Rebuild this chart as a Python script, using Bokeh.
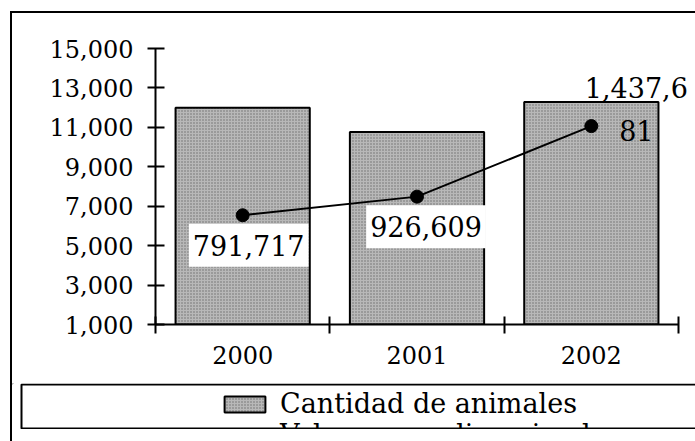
import numpy as np
from bokeh.plotting import figure
from bokeh.models import (Range1d, FixedTicker, NumeralTickFormatter, Label,
                          Legend, LegendItem, Column, Spacer)
from bokeh.embed import file_html
from bokeh.resources import INLINE

# ---- data ----
years = ["2000", "2001", "2002"]
cantidad = [11990, 10770, 12290]
valor = [791717, 926609, 1437681]
valor_labels = ["791,717", "926,609", "1,437,6\n81"]
y_ticks = [1000, 3000, 5000, 7000, 9000, 11000, 13000, 15000]

FONT = "DejaVu Serif"
BAR_STYLE = dict(fill_color="#b8b8b8", hatch_pattern="dot", hatch_color="#6e6e6e",
                 hatch_scale=3, hatch_weight=1, line_color="black", line_width=2)
LINE_STYLE = dict(line_color="black", line_width=2)
DOT_STYLE = dict(size=13, fill_color="black", line_color="black")

xc = np.arange(len(years)) + 0.5
bounds = list(np.arange(len(years) + 1).astype(float))

# layout in pixels (canvas of the chart figure)
W = 683
H_CHART = 370
FRAME_L, FRAME_AXIS_R = 143, 666   # y axis line / last category boundary
x_end = len(years) * (W - FRAME_L) / (FRAME_AXIS_R - FRAME_L)

p = figure(width=W, height=H_CHART, output_backend="svg", toolbar_location=None,
           x_range=Range1d(0, x_end), y_range=Range1d(1000, 15000),
           min_border_left=FRAME_L, min_border_right=0, min_border_top=35,
           min_border_bottom=59)
p.frame_align = False
p.extra_y_ranges = {"valor": Range1d(0, 2000000)}
p.outline_line_color = None
p.background_fill_color = "white"
p.border_fill_color = "white"
p.xgrid.grid_line_color = None
p.ygrid.grid_line_color = None

# y axis
ya = p.yaxis[0]
ya.ticker = FixedTicker(ticks=y_ticks)
ya.formatter = NumeralTickFormatter(format="0,0")
ya.major_label_text_font = FONT
ya.major_label_text_font_size = "24px"
ya.major_label_text_color = "black"
ya.axis_line_width = 2
ya.axis_line_color = "black"
ya.major_tick_line_width = 2
ya.major_tick_line_color = "black"
ya.major_tick_in = 9
ya.major_tick_out = 8
ya.minor_tick_line_color = None
ya.major_label_standoff = 14

# x axis
xa = p.xaxis[0]
xa.bounds = (0, len(years))
xa.ticker = FixedTicker(ticks=list(xc), minor_ticks=bounds)
xa.major_label_overrides = {float(x): y for x, y in zip(xc, years)}
xa.major_label_text_font = FONT
xa.major_label_text_font_size = "24px"
xa.major_label_text_color = "black"
xa.axis_line_width = 2
xa.axis_line_color = "black"
xa.major_tick_line_color = None
xa.major_tick_in = 0
xa.major_tick_out = 9
xa.minor_tick_line_width = 2
xa.minor_tick_line_color = "black"
xa.minor_tick_in = 8
xa.minor_tick_out = 9
xa.major_label_standoff = 12

p.vbar(x=xc, top=cantidad, bottom=1000, width=0.77, **BAR_STYLE)
p.line(x=xc, y=valor, y_range_name="valor", **LINE_STYLE)
p.scatter(x=xc, y=valor, y_range_name="valor", **DOT_STYLE)

offsets = [(6, -30, True), (9, -30, True), (45, 16, False)]
for x, v, t, (dx, dy, bg) in zip(xc, valor, valor_labels, offsets):
    lab = Label(x=x, y=v, y_range_name="valor", text=t, x_offset=dx, y_offset=dy,
                text_align="center", text_baseline="middle",
                text_font=FONT, text_font_size="27px", text_color="black")
    if bg:
        lab.background_fill_color = "white"
        lab.padding = (4, 11)
    else:
        lab.text_line_height = 1.37
    p.add_layout(lab)

# ---- legend strip (box clipped like the original) ----
H_LEG = 46
q = figure(width=W, height=H_LEG, output_backend="svg", toolbar_location=None,
           x_range=Range1d(0, W), y_range=Range1d(H_LEG, 0),
           min_border=0, x_axis_location=None, y_axis_location=None)
q.frame_align = False
q.outline_line_color = None
q.background_fill_color = "white"
q.border_fill_color = "white"
q.grid.grid_line_color = None
# legend proxies, kept outside the visible range
lb = q.vbar(x=[-500], top=[-500], bottom=[-510], width=1, **BAR_STYLE)
ll = q.line(x=[-500, -490], y=[-500, -500], **LINE_STYLE)
ld = q.scatter(x=[-500], y=[-500], **DOT_STYLE)
q.quad(left=9, right=W + 20, top=1, bottom=45, fill_color=None,
       line_color="black", line_width=2)

legend = Legend(items=[LegendItem(label="Cantidad de animales", renderers=[lb]),
                       LegendItem(label="Valor promedio animal", renderers=[ll, ld])],
                location=(207, -21), orientation="vertical",
                label_text_font=FONT, label_text_font_size="27px",
                label_text_color="black", label_standoff=10,
                glyph_width=51, glyph_height=20, label_height=30,
                spacing=0, padding=0, margin=0,
                border_line_color=None, background_fill_color=None)
q.add_layout(legend)

page = Column(children=[p, q, Spacer(width=W, height=12)], spacing=0,
              margin=(11, 0, 0, 10),
              styles={"border-left": "2px solid black",
                      "border-top": "2px solid black"})

open("out.html", "w").write(file_html(page, INLINE))
